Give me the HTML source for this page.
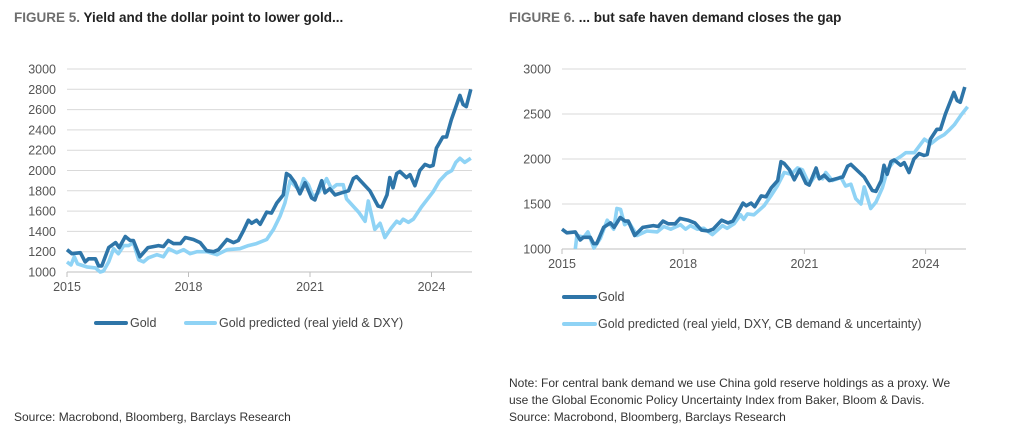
<!DOCTYPE html>
<html><head><meta charset="utf-8">
<style>
body{margin:0;background:#fff;width:1024px;height:434px;overflow:hidden;font-family:"Liberation Sans",sans-serif}
svg text{font-family:"Liberation Sans",sans-serif}
</style></head><body>
<svg id="s" width="1024" height="434" xmlns="http://www.w3.org/2000/svg">
<text x="14" y="22" font-size="13.5" font-weight="bold"><tspan fill="#6e6e6e">FIGURE 5.</tspan><tspan fill="#222"> Yield and the dollar point to lower gold...</tspan></text>
<text x="509" y="22" font-size="13.5" font-weight="bold"><tspan fill="#6e6e6e">FIGURE 6.</tspan><tspan fill="#222"> ... but safe haven demand closes the gap</tspan></text>
<g id="c1"></g>
<g id="c2"></g>
<g>
<line x1="96" y1="323" x2="126" y2="323" stroke="#2e75a8" stroke-width="4" stroke-linecap="round"/>
<text x="130" y="327" font-size="12.5" fill="#444">Gold</text>
<line x1="186" y1="323" x2="215" y2="323" stroke="#8fd3f5" stroke-width="4" stroke-linecap="round"/>
<text x="219" y="327" font-size="12.5" fill="#444">Gold predicted (real yield &amp; DXY)</text>
</g>
<g>
<line x1="564" y1="297" x2="595" y2="297" stroke="#2e75a8" stroke-width="4" stroke-linecap="round"/>
<text x="598" y="301" font-size="12.5" fill="#444">Gold</text>
<line x1="564" y1="324" x2="595" y2="324" stroke="#8fd3f5" stroke-width="4" stroke-linecap="round"/>
<text x="598" y="328" font-size="12.5" fill="#444">Gold predicted (real yield, DXY, CB demand &amp; uncertainty)</text>
</g>
<g font-size="12" fill="#333">
<text x="509" y="387">Note: For central bank demand we use China gold reserve holdings as a proxy. We</text>
<text x="509" y="404">use the Global Economic Policy Uncertainty Index from Baker, Bloom &amp; Davis.</text>
<text x="509" y="421">Source: Macrobond, Bloomberg, Barclays Research</text>
</g>
<text x="14" y="421" font-size="12" fill="#333">Source: Macrobond, Bloomberg, Barclays Research</text>
</svg>
<script>
const goldYears=[2015,2015.12,2015.33,2015.45,2015.53,2015.7,2015.78,2015.86,2016.03,2016.2,2016.29,2016.44,2016.56,2016.64,2016.8,2017.0,2017.26,2017.38,2017.5,2017.63,2017.8,2017.92,2018.12,2018.29,2018.45,2018.62,2018.74,2018.95,2019.11,2019.23,2019.36,2019.48,2019.56,2019.68,2019.77,2019.93,2020.05,2020.18,2020.34,2020.42,2020.5,2020.63,2020.75,2020.88,2021.04,2021.12,2021.29,2021.37,2021.49,2021.62,2021.78,2021.95,2022.07,2022.15,2022.48,2022.68,2022.77,2022.9,2022.97,2023.05,2023.14,2023.22,2023.38,2023.47,2023.59,2023.71,2023.84,2023.96,2024.04,2024.12,2024.28,2024.37,2024.49,2024.7,2024.78,2024.86,2024.97];
const goldValues=[1220,1180,1190,1100,1130,1130,1060,1060,1240,1290,1240,1350,1310,1310,1150,1240,1260,1250,1310,1280,1280,1340,1320,1290,1210,1200,1220,1320,1290,1310,1410,1510,1480,1510,1470,1590,1580,1680,1760,1970,1950,1880,1770,1880,1730,1710,1900,1780,1820,1760,1780,1800,1920,1940,1800,1650,1640,1760,1930,1830,1970,1990,1930,1960,1850,2000,2060,2040,2050,2220,2330,2330,2500,2740,2650,2630,2800];
const pred1Years=[2015,2015.1,2015.18,2015.26,2015.49,2015.7,2015.82,2015.9,2016.03,2016.15,2016.27,2016.4,2016.52,2016.64,2016.77,2016.89,2017.01,2017.22,2017.38,2017.51,2017.71,2017.88,2018.04,2018.21,2018.45,2018.7,2018.95,2019.27,2019.48,2019.68,2019.93,2020.1,2020.26,2020.38,2020.51,2020.63,2020.75,2020.84,2020.96,2021.08,2021.21,2021.33,2021.41,2021.53,2021.66,2021.82,2021.9,2022.2,2022.36,2022.44,2022.6,2022.73,2022.85,2023.0,2023.14,2023.22,2023.3,2023.43,2023.55,2023.75,2024.04,2024.2,2024.37,2024.5,2024.6,2024.7,2024.82,2024.97];
const pred1Values=[1100,1070,1150,1080,1050,1040,1000,1010,1100,1230,1180,1260,1260,1290,1120,1100,1140,1170,1150,1230,1190,1220,1180,1200,1200,1170,1220,1230,1260,1280,1320,1420,1550,1680,1900,1850,1800,1920,1860,1740,1780,1860,1920,1820,1860,1860,1720,1590,1500,1700,1420,1480,1340,1430,1500,1480,1520,1490,1520,1640,1790,1900,1970,2000,2080,2120,2080,2120];
const pred2Years=[2015.33,2015.37,2015.54,2015.64,2015.79,2015.95,2016.12,2016.28,2016.36,2016.45,2016.55,2016.65,2016.86,2017.1,2017.36,2017.52,2017.69,2017.93,2018.06,2018.18,2018.35,2018.51,2018.72,2018.97,2019.09,2019.26,2019.42,2019.5,2019.59,2019.75,2020.0,2020.17,2020.33,2020.5,2020.67,2020.83,2020.95,2021.12,2021.28,2021.45,2021.53,2021.69,2021.82,2021.9,2022.02,2022.15,2022.27,2022.4,2022.48,2022.64,2022.77,2022.93,2023.06,2023.22,2023.39,2023.51,2023.72,2023.97,2024.13,2024.3,2024.46,2024.58,2024.71,2024.88,2025.04];
const pred2Values=[1000,1150,1130,1190,1010,1120,1320,1220,1450,1440,1270,1300,1150,1200,1190,1250,1220,1270,1220,1260,1220,1230,1160,1260,1230,1280,1380,1330,1390,1380,1480,1590,1700,1850,1830,1900,1880,1720,1820,1780,1850,1760,1780,1800,1700,1720,1560,1500,1690,1450,1520,1680,1880,1980,2030,2070,2070,2220,2170,2230,2270,2320,2380,2490,2580];
const xTickLabels=["2015","2018","2021","2024"];
const yTicks1=[1000,1200,1400,1600,1800,2000,2200,2400,2600,2800,3000];
const yTicks2=[1000,1500,2000,2500,3000];
const NS="http://www.w3.org/2000/svg";
function mk(tag,attrs,parent){const e=document.createElementNS(NS,tag);for(const k in attrs)e.setAttribute(k,attrs[k]);parent.appendChild(e);return e;}
function chart(g,cfg){
  const xs=y=>cfg.x0+(y-2015)*cfg.pxYear;
  const ys=v=>cfg.yTop+(3000-v)/2000*(cfg.yBot-cfg.yTop);
  cfg.yticks.forEach(v=>{
    const l=mk('line',{x1:cfg.x0,x2:cfg.x1,y1:ys(v),y2:ys(v),stroke:'#d9d9d9','stroke-width':1},g);
    
    
    const t=mk('text',{x:cfg.x0-11,y:ys(v)+4.5,'text-anchor':'end','font-size':12.5,fill:'#555'},g);
    t.textContent=v;
    
    
  });
  const ax=mk('line',{x1:cfg.x0,x2:cfg.x1,y1:cfg.yBot,y2:cfg.yBot,stroke:'#bfbfbf','stroke-width':1},g);
  
  
  xTickLabels.forEach(s=>{
    const x=xs(+s);
    const tk=mk('line',{x1:x,x2:x,y1:cfg.yBot,y2:cfg.yBot+5,stroke:'#bfbfbf'},g);
    
    
    const t=mk('text',{x:x,y:cfg.yBot+19,'text-anchor':'middle','font-size':12.5,fill:'#555'},g);
    t.textContent=s;
    
    
  });
  const line=(yrs,vals,col,name)=>{
    const p=mk('polyline',{points:yrs.map((y,i)=>xs(y).toFixed(1)+','+ys(vals[i]).toFixed(1)).join(' '),fill:'none',stroke:col,'stroke-width':3.6,'stroke-linejoin':'round'},g);
    
    
  };
  line(cfg.pY,cfg.pV,'#8fd3f5','gold-predicted-line');
  line(goldYears,goldValues,'#2e75a8','gold-line');
}
chart(document.getElementById('c1'),{x0:67,x1:472,pxYear:40.5,yTop:69,yBot:272,yticks:yTicks1,pY:pred1Years,pV:pred1Values});
chart(document.getElementById('c2'),{x0:562,x1:966,pxYear:40.4,yTop:69,yBot:249,yticks:yTicks2,pY:pred2Years,pV:pred2Values});
</script>
</body></html>
